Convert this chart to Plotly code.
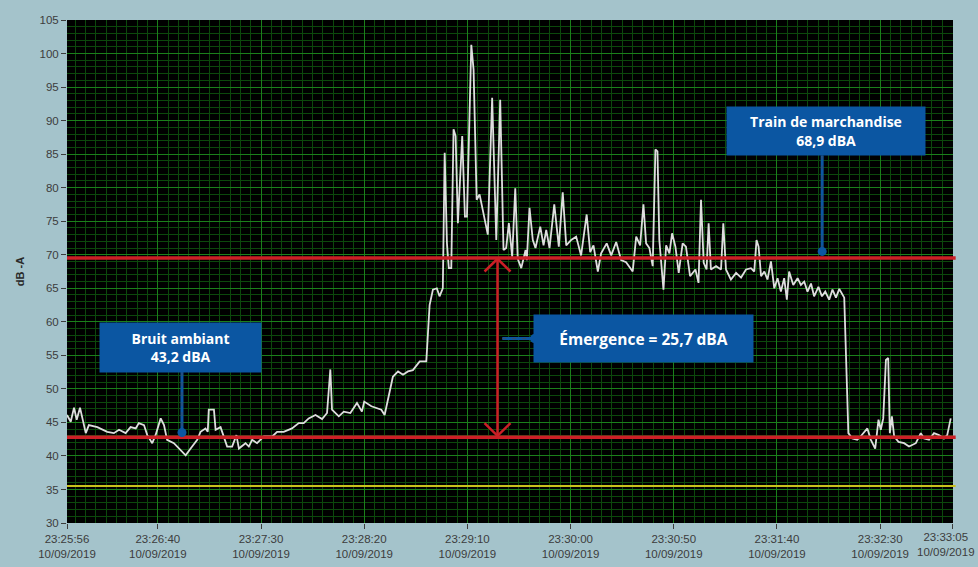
import plotly.graph_objects as go
import pandas as pd

# enregistrement sonomètre (secondes depuis 23:25:56, niveau dB-A)
t_offset_s = [
    0, 1.8, 3.4, 4.7, 6.3, 7.4, 9.1, 10.6, 14.7, 19.5, 22.7, 25.2, 28.4, 30.8,
    33.3, 34.8, 37.3, 38.9, 41.3, 42.9, 45.4, 47.0, 48.5, 51.8, 54.2, 57.5,
    59.9, 63.1, 64.7, 67.1, 68.2, 68.7, 71.2, 72.0, 74.4, 76.0, 77.6, 80.0,
    82.1, 83.3, 86.5, 88.1, 89.7, 92.1, 95.4, 99.4, 101.8, 105.0, 109.0,
    112.3, 114.7, 117.1, 120.4, 123.6, 126.0, 127.6, 128.4, 131.7, 134.1,
    137.3, 140.5, 142.9, 144.0, 147.5, 152.3, 153.9, 157.9, 160.4, 162.8,
    165.2, 167.6, 170.9, 174.1, 175.7, 177.3, 179.2, 180.5, 182.1, 183.0,
    184.1, 185.0, 186.2, 187.3, 188.3, 189.4, 191.5, 192.8, 193.8, 195.9,
    197.0, 198.5, 199.9, 201.5, 203.9, 206.0, 208.0, 209.9, 211.5, 212.8,
    214.1, 215.7, 217.2, 218.4, 220.1, 222.2, 222.8, 224.1, 225.7, 227.0,
    229.3, 230.9, 232.2, 233.8, 236.1, 238.3, 240.2, 241.9, 244.3, 246.7,
    249.1, 251.8, 253.5, 255.1, 257.2, 258.8, 261.5, 263.7, 266.1, 268.5,
    270.9, 274.1, 275.8, 277.7, 279.3, 280.6, 282.2, 283.8, 285.1, 286.1,
    287.0, 289.0, 290.3, 291.9, 293.2, 294.8, 296.4, 298.3, 299.9, 301.9,
    304.5, 306.0, 307.2, 308.5, 309.9, 310.9, 312.0, 314.5, 316.9, 318.0,
    319.3, 321.7, 324.2, 326.6, 329.0, 331.4, 333.0, 334.1, 335.1, 336.3,
    337.9, 339.4, 341.1, 342.7, 344.3, 345.9, 347.5, 348.8, 349.9, 351.9,
    354.0, 355.6, 357.2, 358.8, 360.5, 362.0, 364.1, 365.8, 367.4, 369.3,
    370.9, 372.6, 374.2, 376.6, 378.6, 380.5, 382.9, 384.5, 386.2, 387.8,
    389.5, 391.6, 393.2, 394.3, 395.5, 396.8, 397.9, 398.7, 399.7, 400.8,
    402.9, 405.6, 408.0, 411.3, 413.7, 415.3, 417.7, 420.1, 422.5, 424.9,
    426.5, 428.2,
]
level_db = [
    46.1, 45.1, 47.2, 45.4, 47.2, 45.7, 43.4, 44.6, 44.3, 43.6, 43.4, 43.9,
    43.4, 44.3, 44.1, 44.9, 44.6, 43.1, 41.9, 43.1, 45.6, 44.6, 42.4, 41.9,
    41.1, 40.1, 41.1, 42.4, 43.6, 44.1, 43.6, 46.9, 46.9, 43.9, 44.3, 42.9,
    41.4, 41.4, 43.1, 41.1, 41.9, 41.4, 42.4, 41.9, 42.9, 42.9, 43.6, 43.6,
    44.1, 44.9, 44.9, 45.6, 46.1, 45.5, 46.4, 52.9, 46.9, 45.9, 46.6, 46.4,
    47.9, 46.6, 48.1, 47.4, 46.9, 46.1, 51.8, 52.6, 52.1, 52.6, 52.8, 54.1,
    54.1, 62.5, 64.8, 65.0, 63.8, 65.0, 85.2, 71.7, 68.0, 68.0, 88.7, 87.7,
    74.7, 87.7, 75.7, 75.7, 101.3, 97.6, 78.2, 79.0, 76.7, 73.0, 93.4, 72.2,
    93.1, 70.7, 71.0, 74.7, 69.7, 79.9, 69.4, 68.0, 70.7, 69.2, 77.0, 72.2,
    71.0, 74.2, 71.4, 73.7, 71.0, 77.5, 71.2, 79.3, 71.4, 72.2, 72.7, 69.9,
    76.0, 70.4, 71.4, 67.5, 70.2, 71.7, 69.9, 71.9, 69.2, 68.9, 67.5, 72.7,
    71.4, 77.5, 71.7, 71.0, 68.3, 85.7, 85.4, 72.2, 64.8, 71.4, 70.2, 73.2,
    71.2, 67.3, 71.7, 71.2, 66.8, 67.8, 65.8, 78.2, 68.8, 67.8, 74.7, 67.8,
    68.3, 67.8, 74.7, 67.8, 66.3, 67.3, 66.6, 67.8, 68.0, 67.5, 72.2, 71.2,
    66.8, 67.5, 66.3, 69.0, 65.0, 66.5, 64.5, 66.5, 63.3, 67.5, 65.5, 66.5,
    65.5, 66.0, 64.5, 65.7, 63.8, 65.2, 63.8, 64.5, 63.3, 64.8, 63.6, 64.9,
    63.6, 43.4, 42.6, 42.4, 42.9, 43.6, 44.1, 42.4, 41.1, 45.4, 43.9, 45.6,
    54.3, 54.6, 43.4, 45.9, 42.9, 42.1, 41.9, 41.4, 41.9, 43.4, 42.6, 42.4,
    43.4, 43.1, 42.6, 43.1, 45.6,
]

start = pd.Timestamp("2019-09-10 23:25:56")
end = pd.Timestamp("2019-09-10 23:33:05")
tick_times = ["23:25:56", "23:26:40", "23:27:30", "23:28:20", "23:29:10",
              "23:30:00", "23:30:50", "23:31:40", "23:32:30", "23:33:05"]
tick_date = "10/09/2019"

ambient_level = 42.8      # ligne rouge basse
train_level = 69.5        # ligne rouge haute
limit_level = 35.5        # ligne jaune

times = start + pd.to_timedelta(t_offset_s, unit="s")


def t(sec):
    return start + pd.Timedelta(seconds=sec)


BLUE = "#0b56a2"
RED = "#cc1f26"
TICK_COLOR = "#3c3c3c"

fig = go.Figure()
fig.add_trace(
    go.Scatter(
        x=times, y=level_db, mode="lines",
        line=dict(color="#dedede", width=1.8),
        hoverinfo="skip", showlegend=False,
    )
)

shapes = []
# lignes horizontales
shapes.append(dict(type="line", xref="paper", yref="y", x0=0, x1=1.003,
                   y0=limit_level, y1=limit_level,
                   line=dict(color="#c8c21c", width=2)))
for lvl in (ambient_level, train_level):
    shapes.append(dict(type="line", xref="paper", yref="y", x0=0, x1=1.003,
                       y0=lvl, y1=lvl, line=dict(color=RED, width=3.5)))

# double flèche d'émergence
arrow_t = t(208.6)
top_tip, bot_tip = train_level - 0.1, ambient_level + 0.2
shapes.append(dict(type="line", xref="x", yref="y", x0=arrow_t, x1=arrow_t,
                   y0=bot_tip, y1=top_tip, line=dict(color=RED, width=2.5)))
shapes.append(dict(type="path", xref="x", yref="y", xsizemode="pixel",
                   xanchor=arrow_t,
                   path=f"M-13,{top_tip - 1.9} L0,{top_tip} L13,{top_tip - 1.9}",
                   line=dict(color=RED, width=2.5)))
shapes.append(dict(type="path", xref="x", yref="y", xsizemode="pixel",
                   xanchor=arrow_t,
                   path=f"M-13,{bot_tip + 1.9} L0,{bot_tip} L13,{bot_tip + 1.9}",
                   line=dict(color=RED, width=2.5)))

# connecteurs pointillés + points
connectors = [
    (t(55.7), 52.5, t(55.7), 43.5),
    (t(365.9), 84.8, t(365.9), 70.5),
    (t(210.9), 57.5, t(226.5), 57.5),
]
for x0, y0, x1, y1 in connectors:
    shapes.append(dict(type="line", xref="x", yref="y", x0=x0, x1=x1,
                       y0=y0, y1=y1, line=dict(color=BLUE, width=3)))
    shapes.append(dict(type="line", xref="x", yref="y", x0=x0, x1=x1,
                       y0=y0, y1=y1, line=dict(color="#3b4a66", width=1, dash="4px,6px")))
    shapes.append(dict(type="circle", xref="x", yref="y", xsizemode="pixel",
                       ysizemode="pixel", xanchor=x1, yanchor=y1,
                       x0=-4.5, x1=4.5, y0=-4.5, y1=4.5,
                       fillcolor=BLUE, line=dict(color=BLUE, width=0)))

box_font = dict(family="Open Sans", color="white", size=14)
annotations = [
    dict(x=t(54.9), y=56.1, text="<b>Bruit ambiant<br>43,2 dBA</b>",
         width=161, height=49, font=box_font),
    dict(x=t(367.7), y=88.4, text="<b>Train de marchandise<br>68,9 dBA</b>",
         width=198, height=48, font=box_font),
    dict(x=t(279.5), y=57.5, text="<b>Émergence = 25,7 dBA</b>",
         width=219, height=47, font=dict(box_font, size=15.5)),
]
for a in annotations:
    a.update(xref="x", yref="y", showarrow=False, bgcolor=BLUE,
             xanchor="center", yanchor="middle", align="center", valign="middle",
             borderpad=0)

tickvals = [pd.Timestamp(f"2019-09-10 {hm}") for hm in tick_times]
ticktext = [f"{hm}<br>{tick_date}" for hm in tick_times]
# dernier libellé : calé à droite pour rester dans la page
last_label = ticktext[-1]
ticktext[-1] = ""
annotations.append(dict(
    xref="paper", yref="paper", x=1, y=0, xshift=24, yshift=-6,
    xanchor="right", yanchor="top", align="center", showarrow=False,
    text=last_label, font=dict(family="Liberation Sans", size=11.5, color=TICK_COLOR),
))

fig.update_layout(
    width=978, height=567,
    margin=dict(l=67, r=25, t=20, b=44),
    paper_bgcolor="#a4c3cb",
    plot_bgcolor="#000000",
    font=dict(family="Liberation Sans", size=11.5, color=TICK_COLOR),
    shapes=shapes,
    annotations=annotations,
    showlegend=False,
    xaxis=dict(
        range=[start, end + pd.Timedelta(milliseconds=300)],
        tickvals=tickvals, ticktext=ticktext,
        ticklabeloverflow="allow", automargin=False,
        showgrid=True, gridcolor="#1b7f1b", gridwidth=1,
        minor=dict(dtick=5000, tick0="2019-09-10 23:26:40", showgrid=True,
                   gridcolor="#0c480c", gridwidth=1),
        ticks="outside", ticklen=5, tickcolor=TICK_COLOR,
        zeroline=False, showline=False,
    ),
    yaxis=dict(
        range=[30, 105], dtick=5, tick0=30, automargin=False,
        showgrid=True, gridcolor="#1b7f1b", gridwidth=1,
        minor=dict(dtick=1, showgrid=True, gridcolor="#0c480c", gridwidth=1),
        ticks="outside", ticklen=5, tickcolor=TICK_COLOR,
        title=dict(text="<b>dB -A</b>", font=dict(size=11, color="#2a2a2a"), standoff=12),
        zeroline=False, showline=False,
    ),
)

fig.write_html("out.html", config={"displayModeBar": False},
               post_script="document.body.style.margin='0';")
